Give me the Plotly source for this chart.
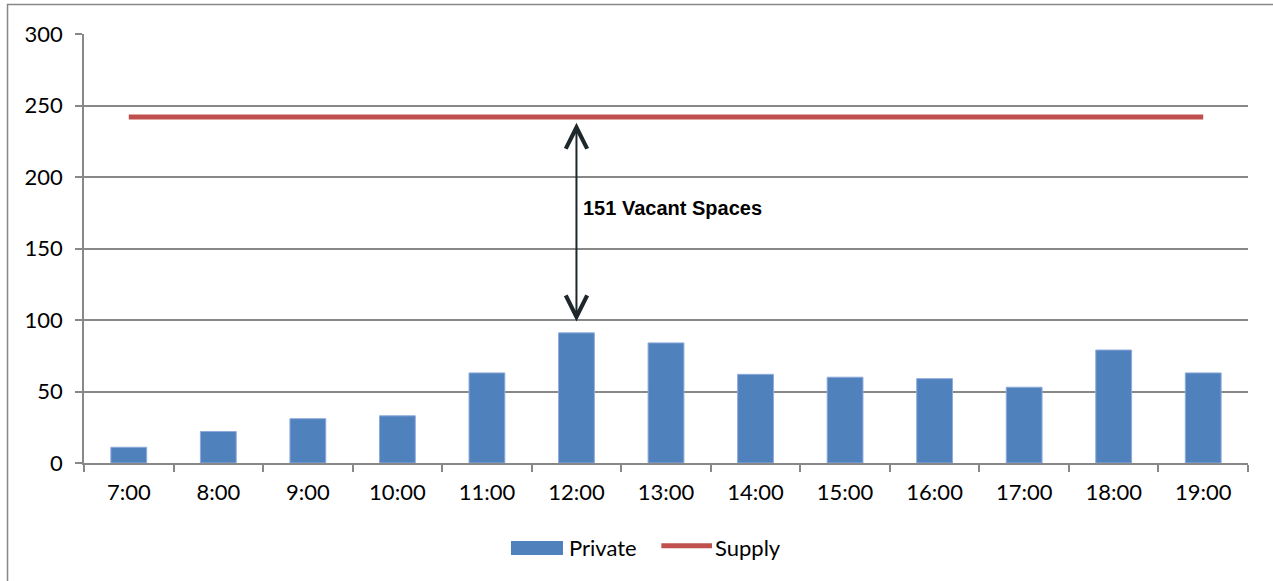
import plotly.graph_objects as go

# Hourly occupancy of private spaces against the fixed supply
hours = ["7:00", "8:00", "9:00", "10:00", "11:00", "12:00", "13:00",
         "14:00", "15:00", "16:00", "17:00", "18:00", "19:00"]
private = [11, 22, 31, 33, 63, 91, 84, 62, 60, 59, 53, 79, 63]
supply = [242] * len(hours)

# Peak-hour gap annotation
peak_hour = "12:00"
peak_occupied = 91
vacant = supply[0] - peak_occupied  # 151
vacant_label = f"{vacant} Vacant Spaces"

y_ticks = [0, 50, 100, 150, 200, 250, 300]

GRID = "#888888"
FONT = "Lato"
BLUE = "#4F81BD"
RED = "#C0504D"

fig = go.Figure()
fig.add_trace(go.Bar(
    x=hours, y=private, name="Private",
    marker=dict(color=BLUE, line=dict(color="#8FAADC", width=1)),
    showlegend=False,
))
fig.add_trace(go.Scatter(
    x=hours, y=supply, name="Supply", mode="lines",
    line=dict(color=RED, width=5), showlegend=False,
))

# Double-headed arrow from the peak bar up to the supply line
fig.add_annotation(
    x=peak_hour, y=peak_occupied + 8, ax=peak_hour, ay=supply[0] - 3,
    xref="x", yref="y", axref="x", ayref="y",
    text="", showarrow=True, arrowhead=5, startarrowhead=5,
    arrowside="end+start", arrowsize=2.1, startarrowsize=2.1,
    arrowwidth=2, arrowcolor="#1E272C",
)
fig.add_annotation(
    x=peak_hour, y=178, xref="x", yref="y", xshift=5,
    text=f"<b>{vacant_label}</b>", showarrow=False, xanchor="left",
    font=dict(family="Liberation Sans", size=20, color="#000000"),
)

# Legend drawn below the plot: wide bar swatch and a line swatch
legend_y = -0.198
fig.add_shape(type="rect", xref="paper", yref="paper",
              x0=0.3668, x1=0.4115, y0=-0.2145, y1=-0.1818,
              fillcolor=BLUE, line=dict(width=0))
fig.add_annotation(x=0.415, y=legend_y, xref="paper", yref="paper",
                   text="Private", showarrow=False, xanchor="left",
                   yanchor="middle", font=dict(family=FONT, size=22))
fig.add_shape(type="line", xref="paper", yref="paper",
              x0=0.496, x1=0.5395, y0=legend_y + 0.005, y1=legend_y + 0.005,
              line=dict(color=RED, width=5))
fig.add_annotation(x=0.5405, y=legend_y, xref="paper", yref="paper",
                   text="Supply", showarrow=False, xanchor="left",
                   yanchor="middle", font=dict(family=FONT, size=22))

# Outer chart frame
fig.add_shape(
    type="rect", xref="paper", yref="paper",
    x0=-0.0657, x1=1.06, y0=-0.4, y1=1.0688,
    line=dict(color=GRID, width=1.5), layer="below",
)

fig.update_layout(
    width=1273, height=581,
    margin=dict(l=84, r=25, t=34, b=118),
    paper_bgcolor="white", plot_bgcolor="white",
    font=dict(family=FONT, size=22, color="#000000"),
    bargap=0.6,
    showlegend=False,
    xaxis=dict(
        type="category", tickson="boundaries", ticks="outside",
        ticklen=7, tickcolor=GRID, tickwidth=1.5, showline=True,
        linecolor=GRID, linewidth=1.5, showgrid=False, ticklabelstandoff=9,
    ),
    yaxis=dict(
        range=[0, 300], tickvals=y_ticks, ticks="outside", ticklen=7,
        tickcolor=GRID, tickwidth=1.5, showline=True, linecolor=GRID,
        linewidth=1.5, showgrid=True, gridcolor=GRID, gridwidth=1.5,
        zeroline=False, ticklabelstandoff=8,
    ),
)

fig.write_html("out.html")
